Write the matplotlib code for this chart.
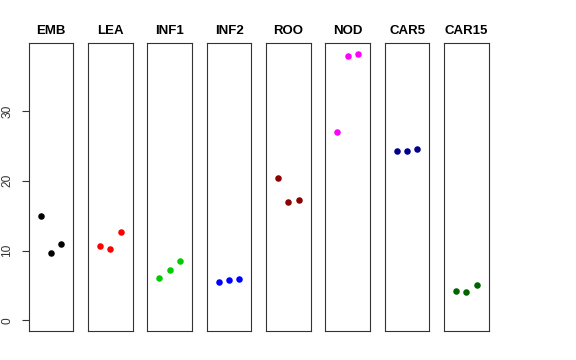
import matplotlib
matplotlib.use('Agg')
import matplotlib.pyplot as plt

plt.rcParams['font.family'] = ['Liberation Sans', 'DejaVu Sans']

# tissue names and the three replicate values per tissue
tissues = ['EMB', 'LEA', 'INF1', 'INF2', 'ROO', 'NOD', 'CAR5', 'CAR15']
values = {
    'EMB':   [14.9, 9.6, 10.9],
    'LEA':   [10.6, 10.2, 12.7],
    'INF1':  [6.1, 7.2, 8.5],
    'INF2':  [5.5, 5.8, 6.0],
    'ROO':   [20.4, 17.0, 17.3],
    'NOD':   [27.0, 37.9, 38.2],
    'CAR5':  [24.3, 24.3, 24.5],
    'CAR15': [4.2, 4.1, 5.1],
}
colors = ['#000000', '#FF0000', '#00CD00', '#0000FF',
          '#8B0000', '#FF00FF', '#00008B', '#006400']
reps = [1, 2, 3]
yticks = [0, 10, 20, 30]

W, H = 576, 360
fig = plt.figure(figsize=(W/100, H/100), dpi=100)

left0 = 28.7
step = 59.33
pw = 44.7
bottom = 29.0
ph = 287.7

ymax = 38.2
for i, t in enumerate(tissues):
    ax = fig.add_axes([(left0 + i*step)/W, bottom/H, pw/W, ph/H])
    ax.plot(reps, values[t], 'o', color=colors[i], ms=4.7, mec='none')
    ax.set_xlim(-0.16, 4.16)
    ax.set_ylim(-0.04*ymax, 1.04*ymax)
    ax.set_xticks([])
    for s in ax.spines.values():
        s.set_linewidth(0.8)
        s.set_edgecolor('#333333')
    ax.set_title(t, fontsize=9.5, fontweight='bold', pad=6.7)
    if i == 0:
        ax.set_yticks(yticks)
        ax.set_yticklabels([str(v) for v in yticks], rotation=90, va='center')
        ax.tick_params(axis='y', length=5, width=0.8, pad=6, labelsize=8.6,
                       colors='#333333')
    else:
        ax.set_yticks([])

fig.savefig('out.png', dpi=100)
